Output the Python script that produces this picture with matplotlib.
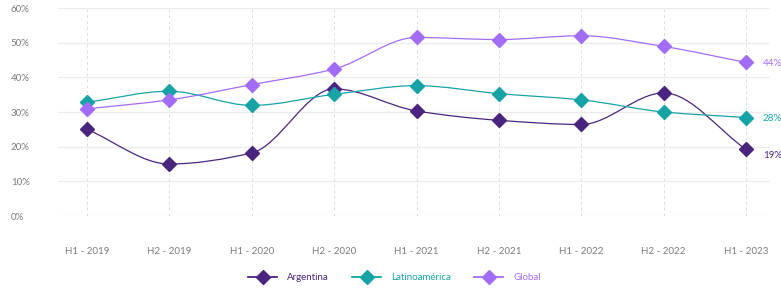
import numpy as np
import matplotlib
matplotlib.use("Agg")
import matplotlib.pyplot as plt
from matplotlib.path import Path
from matplotlib.patches import PathPatch
from matplotlib.lines import Line2D

# data
periods = ['H1 - 2019', 'H2 - 2019', 'H1 - 2020', 'H2 - 2020', 'H1 - 2021',
           'H2 - 2021', 'H1 - 2022', 'H2 - 2022', 'H1 - 2023']
argentina = [25.0, 15.0, 18.2, 36.7, 30.3, 27.6, 26.4, 35.5, 19.2]
latam = [32.8, 36.0, 31.9, 35.1, 37.6, 35.3, 33.5, 30.0, 28.4]
global_ = [30.9, 33.5, 37.9, 42.4, 51.5, 50.9, 52.0, 48.9, 44.3]
end_labels = ['19%', '28%', '44%']

series_names = ['Argentina', 'Latinoamérica', 'Global']
colors = ['#4a2580', '#16a3a6', '#a36cf7']

plt.rcParams['font.family'] = ['Lato', 'DejaVu Sans']


def smooth_path(x, y):
    # monotone cubic (Fritsch-Carlson) drawn as bezier segments
    x = np.asarray(x, float)
    y = np.asarray(y, float)
    n = len(x)
    d = np.diff(y) / np.diff(x)
    m = np.zeros(n)
    m[0], m[-1] = d[0], d[-1]
    for i in range(1, n - 1):
        if d[i - 1] * d[i] <= 0:
            m[i] = 0
        else:
            m[i] = 2 / (1 / d[i - 1] + 1 / d[i])
    verts = [(x[0], y[0])]
    codes = [Path.MOVETO]
    for i in range(n - 1):
        h = x[i + 1] - x[i]
        verts += [(x[i] + h / 3, y[i] + m[i] * h / 3),
                  (x[i + 1] - h / 3, y[i + 1] - m[i + 1] * h / 3),
                  (x[i + 1], y[i + 1])]
        codes += [Path.CURVE4] * 3
    return Path(verts, codes)


fig = plt.figure(figsize=(7.81, 2.88), dpi=100)
ax = fig.add_axes([58 / 781, 1 - 216 / 288, (770 - 58) / 781, 208 / 288])

xs = np.arange(len(periods))
ax.set_xlim(-0.352, 8.29)
ax.set_ylim(0, 60)

# grid
for v in range(0, 61, 10):
    ax.axhline(v, color='#ebebeb', lw=0.9, zorder=0)
for xv in xs:
    ax.axvline(xv, color='#dcdcdc', lw=0.7, ls=(0, (3, 3)), zorder=0)

all_series = [argentina, latam, global_]
for vals, c in zip(all_series, colors):
    ax.add_patch(PathPatch(smooth_path(xs, vals), fill=False, edgecolor=c,
                           lw=0.9, zorder=2))
    ax.plot(xs, vals, ls='none', marker='D', ms=7.5, color=c, zorder=3)

# end labels
offsets = [-3.5, 0, 0]
for vals, lab, c, off in zip(all_series, end_labels, colors, offsets):
    ax.annotate(lab, (xs[-1], vals[-1]), xytext=(12, off - 1),
                textcoords='offset points', color=c, fontsize=7,
                va='center', ha='left', annotation_clip=False)

ax.set_yticks(range(0, 61, 10))
ax.set_yticklabels([f'{v}%' for v in range(0, 61, 10)])
ax.set_xticks(xs)
ax.set_xticklabels(periods)
ax.tick_params(axis='both', length=0, labelsize=7, colors='#7a7a7a')
ax.tick_params(axis='y', pad=34)
ax.tick_params(axis='x', pad=22)
for lab in ax.get_yticklabels():
    lab.set_horizontalalignment('left')
for s in ax.spines.values():
    s.set_visible(False)

handles = [Line2D([0], [0], color=c, marker='D', ms=7.5, lw=1.3) for c in colors]
leg = fig.legend(handles, series_names, loc='center', ncol=3,
                 bbox_to_anchor=(0.505, 1 - 278 / 288), frameon=False,
                 fontsize=7, handlelength=3.0, columnspacing=2.4,
                 handletextpad=1.0)
for t, c in zip(leg.get_texts(), colors):
    t.set_color(c)

fig.savefig('out.png', dpi=100)
